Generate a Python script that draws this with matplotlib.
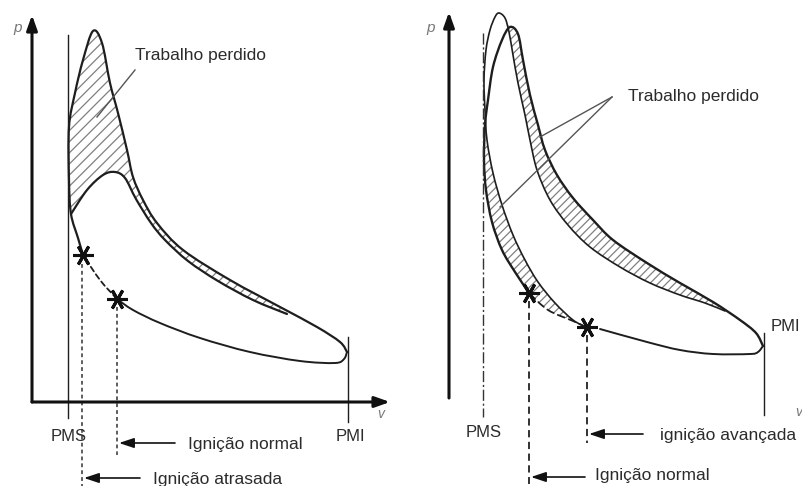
import numpy as np
import matplotlib
matplotlib.use("Agg")
import matplotlib.pyplot as plt
from matplotlib.path import Path
from matplotlib.patches import PathPatch

# ---------------- data (diagram coordinates) ----------------
# Left panel: retarded ignition
L_axis_origin = (32, 402)
L_p_tip = (32, 15)
L_v_tip = (390, 402)
L_pms_x, L_pms_y = 68, (35, 418)
L_pmi_x, L_pmi_y = 348, (337, 422)
# normal cycle outer curve (from retarded star up along PMS, peak, expansion to PMI)
L_outer = [(83, 255), (78, 238), (71, 214), (69, 180), (69, 127), (75, 93), (83, 60),
           (93, 31), (102, 43), (110, 83), (118, 113), (127, 150), (133, 177), (143, 200),
           (157, 223), (183, 250), (230, 280), (280, 307), (317, 327), (340, 342), (347, 352)]
# bottom compression line PMI -> normal ignition star
L_bottom = [(347, 352), (344, 359), (335, 363), (300, 361), (250, 352), (200, 338),
            (160, 323), (133, 310), (117, 299)]
# compression between the two ignition points (dashed)
L_between = [(117, 299), (100, 280), (83, 255)]
# retarded-ignition combustion curve (lower peak)
L_inner = [(71, 214), (87, 190), (103, 175), (115, 172), (125, 178), (136, 199),
           (151, 223), (165, 240), (188, 261), (218, 281), (253, 300), (287, 314)]
L_lost_outer = [(71, 214), (69, 180), (69, 127), (75, 93), (83, 60), (93, 31), (102, 43),
                (110, 83), (118, 113), (127, 150), (133, 177), (143, 200), (157, 223),
                (183, 250), (230, 280), (287, 312)]
L_star_normal = (117, 299)
L_star_late = (83, 255)
L_leader = [(135, 70), (97, 117)]

# Right panel: advanced ignition
R_axis_origin = (449, 398)
R_p_tip = (449, 12)
R_v_tip = (806, 398)
R_pms_x, R_pms_y = 483, (33, 417)
R_pmi_x, R_pmi_y = 764, (333, 415)
R_bottom = [(600, 329), (647, 342), (680, 350), (713, 354), (750, 354), (758, 352), (763, 346)]
R_normal_dashed = [(586, 327), (573, 321), (548, 310), (529, 293)]
R_normal = [(529, 293), (515, 272), (502, 250), (492, 222), (486, 190), (484, 160),
            (485, 125), (488, 100), (493, 67), (502, 40), (510, 27), (518, 34), (523, 60),
            (530, 95), (538, 125), (545, 150), (557, 175), (573, 198), (593, 220),
            (613, 240), (647, 263), (680, 283), (713, 302), (740, 320), (756, 333), (763, 346)]
R_adv = [(586, 327), (573, 320), (555, 303), (538, 282), (525, 260), (513, 235), (502, 205),
         (493, 173), (487, 140), (485, 110), (484, 80), (486, 50), (490, 30), (495, 17),
         (499, 13), (505, 18), (509, 32), (513, 55), (518, 83), (525, 115), (530, 140),
         (537, 170), (550, 200), (568, 225), (590, 247), (620, 267), (650, 283), (680, 295),
         (705, 303), (725, 311)]
R_band1_a = [(487, 140), (493, 173), (502, 205), (513, 235), (525, 260), (538, 282),
             (555, 303), (574, 321)]
R_band1_b = [(574, 321), (548, 310), (529, 293), (515, 272), (502, 250), (492, 222),
             (486, 190), (484, 140)]
R_band2_a = [(510, 27), (518, 34), (523, 60), (530, 95), (538, 125), (545, 150), (557, 175),
             (573, 198), (593, 220), (613, 240), (647, 263), (680, 283), (713, 302), (726, 311)]
R_band2_b = [(725, 311), (705, 303), (680, 295), (650, 283), (620, 267), (590, 247),
             (568, 225), (550, 200), (537, 170), (530, 140), (525, 115), (518, 83),
             (513, 55), (509, 32), (505, 22)]
R_star_normal = (529, 293)
R_star_adv = (587, 327)
R_leader_from = (612, 97)
R_leader_to = [(540, 137), (500, 207)]

# texts
L_texts = [("Trabalho perdido", 135, 60), ("PMS", 69, 441), ("PMI", 350, 441),
           ("Ignição normal", 188, 449), ("Ignição atrasada", 153, 484)]
R_texts = [("Trabalho perdido", 628, 101), ("PMS", 484, 437), ("PMI", 785, 331),
           ("ignição avançada", 660, 440), ("Ignição normal", 595, 480)]

# ---------------- helpers ----------------
def bez(pts):
    P = np.asarray(pts, float)
    n = len(P)
    verts, codes = [], []
    for i in range(n - 1):
        p0 = P[i - 1] if i > 0 else P[i]
        p1, p2 = P[i], P[i + 1]
        p3 = P[i + 2] if i + 2 < n else P[i + 1]
        verts += [p1 + (p2 - p0) / 6.0, p2 - (p3 - p1) / 6.0, p2]
        codes += [Path.CURVE4] * 3
    return verts, codes

def curve(pts):
    v, c = bez(pts)
    return Path([pts[0]] + v, [Path.MOVETO] + c)

def region(a, b):
    va, ca = bez(a)
    vb, cb = bez(b)
    verts = [a[0]] + va + [b[0]] + vb + [a[0]]
    codes = [Path.MOVETO] + ca + [Path.LINETO] + cb + [Path.CLOSEPOLY]
    return Path(verts, codes)

plt.rcParams['hatch.linewidth'] = 0.9
fig = plt.figure(figsize=(8.02, 4.86), dpi=100)
ax = fig.add_axes([0, 0, 1, 1])
ax.set_xlim(0, 802)
ax.set_ylim(486, 0)
ax.axis('off')

INK = '#1e1e1e'
HATCH = '#808080'
TXT = '#2b2b2b'

def draw(pts, lw=1.5, ls='-', color=INK):
    ax.add_patch(PathPatch(curve(pts), fill=False, lw=lw, ls=ls, edgecolor=color,
                           capstyle='round', joinstyle='round'))

def hatch(a, b, pattern='///'):
    ax.add_patch(PathPatch(region(a, b), facecolor='none', edgecolor=HATCH, lw=0,
                           hatch=pattern))

def axis_arrow(origin, tip):
    ax.annotate('', xy=tip, xytext=origin,
                arrowprops=dict(arrowstyle='-|>,head_length=0.9,head_width=0.32',
                                lw=2.2, color='#111111', shrinkA=0, shrinkB=0,
                                mutation_scale=10))

def label_arrow(x0, x1, y):
    ax.annotate('', xy=(x1, y), xytext=(x0, y),
                arrowprops=dict(arrowstyle='-|>,head_length=0.9,head_width=0.3',
                                lw=1.2, color='#111111', shrinkA=0, shrinkB=0,
                                mutation_scale=10))

def star(pt):
    ax.plot([pt[0]], [pt[1]], marker=(6, 2, 30), ms=15, mew=2.2, color='#111111')

FS = 12.5
# ---------- left panel ----------
hatch(L_lost_outer, L_inner[::-1], '///')
axis_arrow(L_axis_origin, L_p_tip)
axis_arrow(L_axis_origin, L_v_tip)
ax.plot([L_pms_x, L_pms_x], L_pms_y, color=INK, lw=1.0)
ax.plot([L_pmi_x, L_pmi_x], L_pmi_y, color=INK, lw=1.0)
draw(L_outer, lw=1.6)
draw(L_bottom, lw=1.4)
draw(L_between, lw=1.3, ls=(0, (3, 2)))
draw(L_inner, lw=1.6)
ax.plot(*zip(*L_leader), color='#555555', lw=1.0)
star(L_star_normal)
star(L_star_late)
ax.plot([82, 82], [264, 486], color='#333333', lw=1.1, ls=(0, (2.5, 2)))
ax.plot([117, 117], [307, 455], color='#333333', lw=1.1, ls=(0, (2.5, 2)))
label_arrow(175, 119, 443)
label_arrow(140, 84, 478)
ax.text(13, 32, 'p', fontsize=11, style='italic', color='#777777', family='Liberation Sans')
ax.text(377, 418, 'v', fontsize=10, style='italic', color='#777777', family='Liberation Sans')

# ---------- right panel ----------
hatch(R_band1_a, R_band1_b, '////')
hatch(R_band2_a, R_band2_b, '////')
axis_arrow(R_axis_origin, R_p_tip)
axis_arrow(R_axis_origin, R_v_tip)
ax.plot([R_pms_x, R_pms_x], R_pms_y, color='#333333', lw=1.0, ls=(0, (8, 2, 1.5, 2)))
ax.plot([R_pmi_x, R_pmi_x], R_pmi_y, color=INK, lw=1.0)
draw(R_bottom, lw=1.4)
draw(R_normal_dashed, lw=1.3, ls=(0, (4, 2.5)))
draw(R_normal, lw=1.7)
draw(R_adv, lw=1.2)
for t in R_leader_to:
    ax.plot([R_leader_from[0], t[0]], [R_leader_from[1], t[1]], color='#555555', lw=1.0)
star(R_star_normal)
star(R_star_adv)
ax.plot([529, 529], [301, 484], color='#222222', lw=1.3, ls=(0, (4, 2.5)))
ax.plot([587, 587], [335, 443], color='#222222', lw=1.3, ls=(0, (4, 2.5)))
label_arrow(643, 589, 434)
label_arrow(585, 531, 477)
ax.text(426, 32, 'p', fontsize=11, style='italic', color='#777777', family='Liberation Sans')
ax.text(795, 416, 'v', fontsize=10, style='italic', color='#777777', family='Liberation Sans')

for s, x, y in L_texts + R_texts:
    ha = 'center' if s in ('PMS', 'PMI') else 'left'
    ax.text(x, y, s, fontsize=FS if ha == 'left' else 12, ha=ha, va='baseline',
            color=TXT, family='Liberation Sans')

fig.savefig('out.png', dpi=100, facecolor='white')
